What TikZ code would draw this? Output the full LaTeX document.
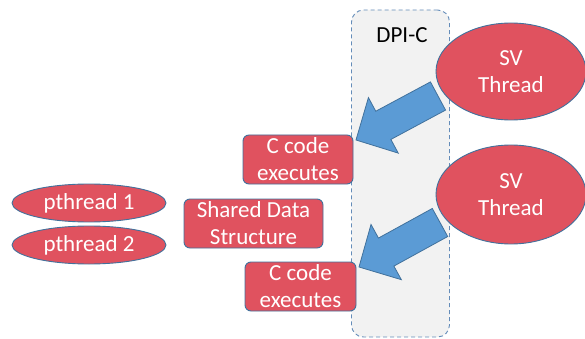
\documentclass[tikz,border=0pt]{standalone}
\usepackage{fontspec}
\setmainfont{Carlito}
\usetikzlibrary{shapes.geometric, calc}
\definecolor{myred}{RGB}{224,82,95}
\definecolor{myblue}{RGB}{91,155,213}
\definecolor{myedge}{RGB}{65,113,156}
\definecolor{mydash}{RGB}{100,140,185}
\definecolor{mygray}{RGB}{242,242,242}
\tikzset{
  redbox/.style={rectangle, draw=myedge, fill=myred, text=white,
    rounded corners=6pt, align=center, inner sep=0pt, line width=0.9pt},
  redoval/.style={ellipse, draw=myedge, fill=myred, text=white,
    align=center, inner sep=0pt, line width=0.9pt},
  dpibox/.style={rectangle, draw=mydash, fill=mygray,
    dash pattern=on 4pt off 3pt, rounded corners=12pt, line width=0.9pt},
  fatarrow/.style={draw=myedge, fill=myblue, line width=0.8pt, line join=miter}
}
% block arrow from tail #1 to tip #2
\newcommand{\callarrow}[2]{%
  \coordinate (hb) at ($(#2)!31pt!(#1)$);
  \draw[fatarrow] ($(#1)!16pt!90:(#2)$) -- ($(hb)!16pt!90:(#2)$)
    -- ($(hb)!31.5pt!90:(#2)$) -- (#2) -- ($(hb)!31.5pt!-90:(#2)$)
    -- ($(hb)!16pt!-90:(#2)$) -- ($(#1)!16pt!-90:(#2)$) -- cycle;
}
\begin{document}
\begin{tikzpicture}[x=1pt, y=-1pt, font=\fontsize{23}{27}\selectfont]
  \useasboundingbox (0,0) rectangle (585,339);

  % DPI-C layer
  \node[dpibox, minimum width=98pt, minimum height=327pt] (dpi) at (400.5,173.5) {};
  \node (dpilabel) at (402,35) {DPI-C};

  % C side
  \node[redoval, minimum width=154pt, minimum height=38pt] (pth1) at (89,203) {pthread 1};
  \node[redoval, minimum width=154pt, minimum height=38pt] (pth2) at (89,245) {pthread 2};
  \node[redbox, minimum width=139pt, minimum height=49pt] (shared) at (253.5,223.5) {Shared Data\\Structure};
  \node[redbox, minimum width=110pt, minimum height=49pt] (ccode1) at (298,159.5) {C code\\executes};
  \node[redbox, minimum width=111pt, minimum height=49pt] (ccode2) at (300.5,286.5) {C code\\executes};

  % SV side
  \node[redoval, minimum width=150pt, minimum height=97pt] (sv1) at (511,71.5) {SV\\Thread};
  \node[redoval, minimum width=150pt, minimum height=99pt] (sv2) at (511,194.5) {SV\\Thread};

  % Calls into C
  \coordinate (tail1) at (438,96);
  \coordinate (tip1) at (356,140);
  \coordinate (tail2) at (440,222.5);
  \coordinate (tip2) at (359,267);
  \callarrow{tail1}{tip1}
  \callarrow{tail2}{tip2}
\end{tikzpicture}
\end{document}
